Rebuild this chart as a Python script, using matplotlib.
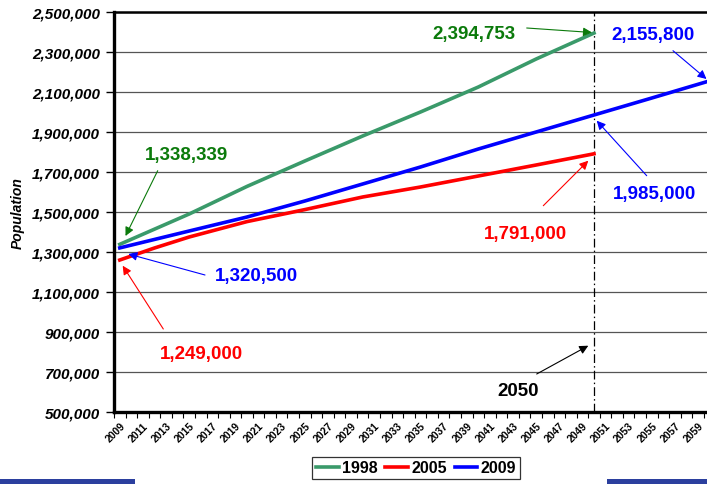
import matplotlib
matplotlib.use("Agg")
import matplotlib.pyplot as plt
from matplotlib.patches import Rectangle
from matplotlib.ticker import FuncFormatter, FixedLocator

plt.rcParams['font.family'] = ['Liberation Sans', 'DejaVu Sans']

# ---- data ----
years_1998 = [2009, 2015, 2020, 2025, 2030, 2035, 2040, 2045, 2050]
pop_1998 = [1338339, 1490000, 1628000, 1755000, 1880000, 2000000, 2125000, 2265000, 2394753]

years_2005 = [2009, 2012, 2015, 2020, 2025, 2030, 2035, 2040, 2045, 2050]
pop_2005 = [1260000, 1320000, 1375000, 1452000, 1512000, 1575000, 1625000, 1680000, 1735000, 1791000]

years_2009 = [2009, 2015, 2020, 2025, 2030, 2035, 2040, 2045, 2050, 2055, 2060]
pop_2009 = [1320500, 1405000, 1475000, 1555000, 1640000, 1725000, 1815000, 1900000, 1985000, 2070000, 2155800]

series_names = ['1998', '2005', '2009']
series_colors = ['#3a9a6a', '#ff0000', '#0000ff']

tick_years = list(range(2009, 2060, 2))
y_ticks = list(range(500000, 2500001, 200000))
marker_year = 2050

W, H = 707, 485
fig = plt.figure(figsize=(W / 100, H / 100), dpi=100)
ax = fig.add_axes([114 / W, 1 - 413 / H, 1 - 114 / W, 400 / H])

lw = 2.6
ax.plot(years_1998, pop_1998, color=series_colors[0], lw=lw, label=series_names[0], zorder=3)
ax.plot(years_2005, pop_2005, color=series_colors[1], lw=lw, label=series_names[1], zorder=3)
ax.plot(years_2009, pop_2009, color=series_colors[2], lw=lw, label=series_names[2], zorder=3)

ax.axvline(marker_year, color='black', lw=0.9, linestyle=(0, (7, 2.5, 1.2, 2.5)), zorder=2)

ax.set_xlim(2008.5, 2059.77)
ax.set_ylim(500000, 2500000)

ax.yaxis.set_major_locator(FixedLocator(y_ticks))
ax.yaxis.set_major_formatter(FuncFormatter(lambda v, p: f"{int(v):,}"))
ax.tick_params(axis='y', length=6, width=1, pad=4, labelsize=11)
for lab in ax.get_yticklabels():
    lab.set_fontweight('bold')
    lab.set_fontstyle('italic')

ax.xaxis.set_major_locator(FixedLocator(tick_years))
ax.set_xticklabels([str(y) for y in tick_years], rotation=45, ha='right', va='top',
                   rotation_mode='anchor', fontsize=7.5, fontweight='bold')
ax.tick_params(axis='x', which='major', length=0, pad=6)
ax.xaxis.set_minor_locator(FixedLocator([y + 0.5 for y in range(2008, 2061)]))
ax.tick_params(axis='x', which='minor', length=4, width=0.8)

ax.grid(axis='y', color='#555555', lw=0.9, zorder=1)
ax.set_axisbelow(True)

for s in ['left', 'bottom']:
    ax.spines[s].set_linewidth(2.4)
ax.spines['top'].set_linewidth(1.8)
ax.spines['right'].set_visible(False)

fig.text(18 / W, 1 - 213 / H, 'Population', rotation=90, ha='center', va='center',
         fontsize=10, fontweight='bold', fontstyle='italic')

def P(x, y):
    return (x / W, 1 - y / H)

dg = '#0b7a0b'
notes = [
    ('1,338,339', dg, (186.5, 156), (157.7, 171.7), (125.5, 237.0)),
    ('2,394,753', dg, (474, 34.5), (526.7, 29.0), (592.0, 33.5)),
    ('2,155,800', '#0000ff', (652.5, 35.5), (673.0, 51.7), (706.5, 80.0)),
    ('1,985,000', '#0000ff', (655, 195), (646.7, 176.7), (596.7, 121.7)),
    ('1,791,000', '#ff0000', (525, 235), (543.3, 206.7), (588.3, 161.7)),
    ('1,320,500', '#0000ff', (256, 276.5), (205.0, 276.0), (128.3, 255.0)),
    ('1,249,000', '#ff0000', (201, 355), (163.3, 330.0), (122.7, 266.7)),
    ('2050', 'black', (518, 392), (536.7, 375.0), (588.3, 346.7)),
]
for txt, col, tc, tail, tip in notes:
    fig.text(*P(*tc), txt, color=col, fontsize=13.5, fontweight='bold', ha='center', va='center')
    ax.annotate('', xy=P(*tip), xycoords='figure fraction', xytext=P(*tail),
                textcoords='figure fraction',
                arrowprops=dict(arrowstyle='-|>', color=col, lw=0.8, mutation_scale=13,
                                shrinkA=0, shrinkB=0), annotation_clip=False)

leg = fig.legend(handles=ax.get_lines()[:3], labels=series_names, loc='center',
                 bbox_to_anchor=(416 / W, 1 - 469 / H), ncol=3, frameon=True,
                 fancybox=False, edgecolor='black', handlelength=1.4,
                 handletextpad=0.2, columnspacing=0.5, borderpad=0.25,
                 prop={'weight': 'bold', 'size': 11.5})
leg.get_frame().set_linewidth(0.9)

# slide decoration bars at the bottom
fig.patches.append(Rectangle((0, 0), 135 / W, 5 / H, transform=fig.transFigure,
                             facecolor='#2b3f9e', edgecolor='none'))
fig.patches.append(Rectangle((607 / W, 0), 100 / W, 5 / H, transform=fig.transFigure,
                             facecolor='#2b3f9e', edgecolor='none'))

fig.savefig('out.png', dpi=100)
